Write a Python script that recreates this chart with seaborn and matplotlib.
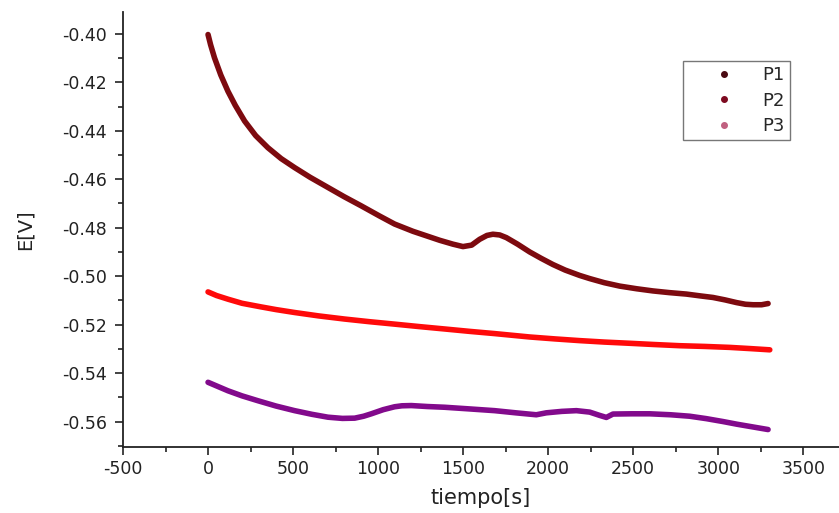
import numpy as np
import pandas as pd
import matplotlib
matplotlib.use("Agg")
import matplotlib.pyplot as plt
from matplotlib.lines import Line2D
from matplotlib.ticker import MultipleLocator, FuncFormatter
import seaborn as sns

# ---- data ----
p1_t = [0, 15, 38, 75, 117, 160, 215, 280, 352, 430, 509, 600, 705, 800, 901, 1009,
        1097, 1205, 1290, 1362, 1440, 1499, 1550, 1597, 1640, 1675, 1715, 1754,
        1820, 1891, 1960, 2028, 2100, 2185, 2244, 2330, 2420, 2520, 2616, 2713,
        2813, 2900, 2969, 3040, 3107, 3160, 3205, 3255, 3293]
p1_e = [-0.4003, -0.4045, -0.4099, -0.4170, -0.4237, -0.4295, -0.4360, -0.4420,
        -0.4470, -0.4515, -0.4552, -0.4592, -0.4634, -0.4672, -0.4710, -0.4752,
        -0.4785, -0.4815, -0.4835, -0.4852, -0.4868, -0.4878, -0.4872, -0.4848,
        -0.4832, -0.4827, -0.4830, -0.4841, -0.4868, -0.4900, -0.4927, -0.4952,
        -0.4975, -0.4997, -0.5010, -0.5027, -0.5041, -0.5052, -0.5061, -0.5068,
        -0.5074, -0.5082, -0.5088, -0.5098, -0.5109, -0.5116, -0.5118, -0.5118,
        -0.5113]

p2_t = [0, 50, 117, 200, 313, 400, 509, 650, 803, 950, 1097, 1240, 1391, 1540,
        1685, 1891, 2040, 2185, 2330, 2479, 2620, 2773, 2920, 3068, 3190, 3303]
p2_e = [-0.5065, -0.5080, -0.5095, -0.5112, -0.5127, -0.5138, -0.5150, -0.5164,
        -0.5177, -0.5188, -0.5198, -0.5208, -0.5218, -0.5228, -0.5237, -0.5251,
        -0.5259, -0.5266, -0.5272, -0.5277, -0.5282, -0.5287, -0.5290, -0.5294,
        -0.5299, -0.5304]

p3_t = [0, 117, 200, 293, 400, 509, 610, 705, 790, 862, 915, 960, 1030, 1097,
        1140, 1195, 1290, 1391, 1540, 1685, 1810, 1930, 1989, 2080, 2166, 2244,
        2300, 2342, 2381, 2490, 2597, 2720, 2832, 2930, 3028, 3110, 3185, 3293]
p3_e = [-0.5438, -0.5473, -0.5494, -0.5514, -0.5536, -0.5555, -0.5570, -0.5582,
        -0.5587, -0.5586, -0.5578, -0.5568, -0.5551, -0.5539, -0.5535, -0.5534,
        -0.5538, -0.5541, -0.5548, -0.5555, -0.5564, -0.5572, -0.5564, -0.5558,
        -0.5555, -0.5561, -0.5574, -0.5583, -0.5569, -0.5568, -0.5568, -0.5572,
        -0.5578, -0.5588, -0.5600, -0.5611, -0.5620, -0.5633]

series = ["P1", "P2", "P3"]
colors = {"P1": "#7d0a0f", "P2": "#ff0a0a", "P3": "#820a8c"}
legend_colors = {"P1": "#4a0a12", "P2": "#7d0a20", "P3": "#c06080"}

df = pd.concat([
    pd.DataFrame({"t": p1_t, "E": p1_e, "serie": "P1"}),
    pd.DataFrame({"t": p2_t, "E": p2_e, "serie": "P2"}),
    pd.DataFrame({"t": p3_t, "E": p3_e, "serie": "P3"}),
], ignore_index=True)

sns.set_style("ticks")
plt.rcParams["font.family"] = ["DejaVu Sans"]

fig = plt.figure(figsize=(8.39, 5.13), dpi=100)
ax = fig.add_axes([123 / 839, 66 / 513, 1 - 123 / 839, (447 - 12) / 513])

sns.lineplot(data=df, x="t", y="E", hue="serie", palette=colors, sort=False,
             estimator=None, linewidth=4.0, legend=False, ax=ax,
             solid_capstyle="round", solid_joinstyle="round")

ax.set_xlim(-500, 3710)
ax.set_ylim(-0.5705, -0.391)
ax.xaxis.set_major_locator(MultipleLocator(500))
ax.xaxis.set_minor_locator(MultipleLocator(250))
ax.yaxis.set_major_locator(MultipleLocator(0.02))
ax.yaxis.set_minor_locator(MultipleLocator(0.01))
ax.yaxis.set_major_formatter(FuncFormatter(lambda v, p: f"{v:.2f}"))
ax.xaxis.set_major_formatter(FuncFormatter(lambda v, p: f"{int(round(v))}"))

ax.tick_params(axis="both", which="major", direction="out", length=5.5, width=1.2,
               labelsize=12.5, colors="#222222", pad=4)
ax.tick_params(axis="y", which="major", pad=6)
ax.tick_params(axis="both", which="minor", direction="out", length=3.5, width=1.2,
               colors="#222222")
for s in ["top", "right"]:
    ax.spines[s].set_visible(False)
for s in ["left", "bottom"]:
    ax.spines[s].set_linewidth(1.3)
    ax.spines[s].set_color("#222222")

ax.set_xlabel("tiempo[s]", fontsize=15, color="#222222", labelpad=7)
ax.set_ylabel("E[V]", fontsize=14, color="#222222", labelpad=20)

handles = [Line2D([], [], linestyle="none", marker="o", markersize=4,
                  color=legend_colors[s]) for s in series]
leg = ax.legend(handles, series, loc="upper left",
                bbox_to_anchor=(683 / 839, 1 - 61 / 513), bbox_transform=fig.transFigure,
                frameon=True, fancybox=False, edgecolor="#555555", fontsize=13,
                handlelength=3.9, handletextpad=0.2, labelspacing=0.4,
                borderpad=0.3, borderaxespad=0.0)
leg.get_frame().set_linewidth(1.0)

fig.savefig("out.png", dpi=100)
